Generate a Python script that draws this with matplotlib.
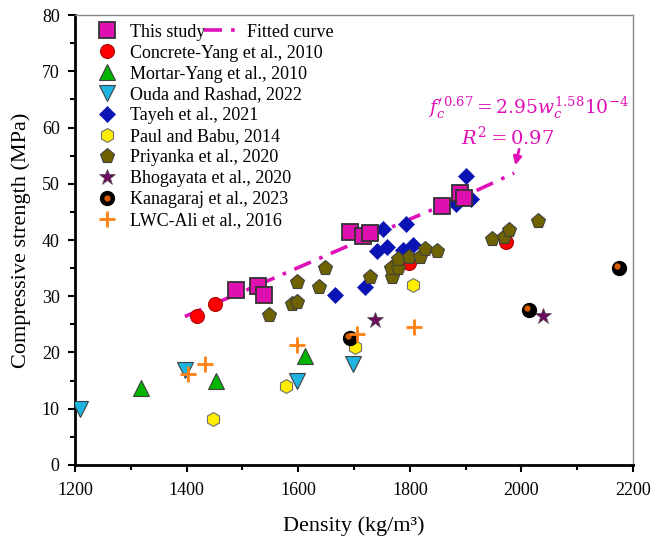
import matplotlib
matplotlib.use("Agg")
import matplotlib.pyplot as plt
from matplotlib.ticker import MultipleLocator
from matplotlib.transforms import offset_copy
from matplotlib.legend_handler import HandlerTuple

plt.rcParams['font.family'] = ['Liberation Serif', 'DejaVu Serif']
plt.rcParams['mathtext.fontset'] = 'dejavuserif'

# this study
study_x = [1489, 1528, 1538, 1693, 1716, 1728, 1858, 1890, 1898]
study_y = [31.1, 31.9, 30.3, 41.4, 40.7, 41.2, 46.0, 48.3, 47.5]

# fitted curve
fit_x = [1397, 1500, 1600, 1700, 1800, 1900, 1987]
fit_y = [26.4, 30.8, 35.1, 39.4, 43.7, 47.9, 51.9]

conc_yang_x = [1419, 1450, 1799, 1972]
conc_yang_y = [26.5, 28.7, 36.0, 39.6]

mort_yang_x = [1318, 1452, 1613]
mort_yang_y = [13.6, 14.9, 19.3]

ouda_x = [1209, 1397, 1598, 1698]
ouda_y = [9.9, 16.9, 14.9, 17.9]

tayeh_x = [1666, 1720, 1741, 1759, 1788, 1806, 1752, 1793, 1882, 1910, 1900]
tayeh_y = [30.2, 31.7, 38.0, 38.8, 38.3, 39.1, 42.0, 42.9, 46.4, 47.3, 51.3]

paul_x = [1447, 1579, 1701, 1805]
paul_y = [8.1, 14.0, 21.0, 32.0]

priy_x = [1548, 1589, 1598, 1598, 1638, 1648, 1728, 1768, 1766, 1778,
          1778, 1798, 1818, 1828, 1848, 1948, 1968, 1978, 2029]
priy_y = [26.7, 28.6, 28.9, 32.5, 31.7, 35.1, 33.5, 33.4, 35.1, 35.1,
          36.7, 37.0, 37.0, 38.4, 38.1, 40.1, 40.5, 41.8, 43.4]

bhog_x = [1738, 2038]
bhog_y = [25.8, 26.4]

kana_x = [1692, 2013, 2175]
kana_y = [22.5, 27.6, 35.0]

ali_x = [1403, 1433, 1598, 1706, 1808]
ali_y = [16.2, 18.0, 21.3, 23.2, 24.5]

pink = '#E010B8'

fig = plt.figure(figsize=(6.68, 5.38), dpi=100)
ax = fig.add_axes([0.1123, 0.1357, 0.8353, 0.8364])

# fitted line underneath the markers
ln_fit, = ax.plot(fit_x, fit_y, color=pink, lw=2.6, ls=(0, (5, 2.5, 1, 2.5)), zorder=2)

h_study, = ax.plot(study_x, study_y, 's', ms=11, mfc='#E010B0', mec='#333333', mew=1.3, zorder=5)
h_cy, = ax.plot(conc_yang_x, conc_yang_y, 'o', ms=10, mfc='#FF0000', mec='#B00000', mew=0.8, zorder=3)
h_my, = ax.plot(mort_yang_x, mort_yang_y, '^', ms=11, mfc='#00B400', mec='#404040', mew=0.8, zorder=3)
h_ou, = ax.plot(ouda_x, ouda_y, 'v', ms=11, mfc='#1EB4E0', mec='#404040', mew=0.8, zorder=3)
h_ta, = ax.plot(tayeh_x, tayeh_y, 'D', ms=8, mfc='#0A14B4', mec='#0A14B4', mew=0.5, zorder=3)
h_pa, = ax.plot(paul_x, paul_y, 'h', ms=10, mfc='#FFEE00', mec='#707070', mew=0.8, zorder=3)
h_pr, = ax.plot(priy_x, priy_y, 'p', ms=11, mfc='#6E6300', mec='#404040', mew=0.8, zorder=4)
h_bh, = ax.plot(bhog_x, bhog_y, '*', ms=12, mfc='#6C0A5C', mec='#505050', mew=0.5, zorder=3)
h_kb, = ax.plot(kana_x, kana_y, 'o', ms=10, mfc='black', mec='black', zorder=3)
dot_tr = offset_copy(ax.transData, fig=fig, x=-2, y=2, units='dots')
h_ko, = ax.plot(kana_x, kana_y, 'o', ms=3.5, mfc='#D85A00', mec='#D85A00', transform=dot_tr, zorder=3)
h_al, = ax.plot(ali_x, ali_y, '+', ms=11, mew=2, color='#FF8010', zorder=3)

ax.set_xlim(1200, 2200)
ax.set_ylim(0, 80)
ax.xaxis.set_major_locator(MultipleLocator(200))
ax.xaxis.set_minor_locator(MultipleLocator(100))
ax.yaxis.set_major_locator(MultipleLocator(10))
ax.yaxis.set_minor_locator(MultipleLocator(5))
ax.tick_params(which='both', direction='out', top=False, right=False, width=1.5,
               labelsize=13)
ax.tick_params(axis='x', pad=7.5)
ax.tick_params(axis='y', pad=6)
ax.tick_params(which='major', length=5)
ax.tick_params(which='minor', length=3.6)
for s in ['left', 'bottom']:
    ax.spines[s].set_linewidth(2)
    ax.spines[s].set_color('black')
for s in ['top', 'right']:
    ax.spines[s].set_linewidth(1)
    ax.spines[s].set_color('#888888')

ax.set_xlabel('Density (kg/m\u00b3)', fontsize=16, labelpad=12.5)
ax.set_ylabel('Compressive strength (MPa)', fontsize=16, labelpad=8)

handles = [h_study, h_cy, h_my, h_ou, h_ta, h_pa, h_pr, h_bh, (h_kb, h_ko), h_al]
labels = ['This study', 'Concrete-Yang et al., 2010', 'Mortar-Yang et al., 2010',
          'Ouda and Rashad, 2022', 'Tayeh et al., 2021', 'Paul and Babu, 2014',
          'Priyanka et al., 2020', 'Bhogayata et al., 2020', 'Kanagaraj et al., 2023',
          'LWC-Ali et al., 2016']
leg1 = ax.legend(handles, labels, loc='upper left', bbox_to_anchor=(0.041, 0.981),
                 frameon=False, fontsize=13, borderpad=0, borderaxespad=0,
                 handlelength=1.0, handletextpad=0.8, labelspacing=0.22,
                 handler_map={tuple: HandlerTuple(ndivide=1)})
ax.add_artist(leg1)
ax.legend([ln_fit], ['Fitted curve'], loc='upper left', bbox_to_anchor=(0.231, 0.981),
          frameon=False, fontsize=13, borderpad=0, borderaxespad=0,
          handlelength=2.0, handletextpad=0.4)

ax.text(2012, 63.4, r"$f_c^{\prime\,0.67} = 2.95w_c^{1.58}10^{-4}$", color=pink,
        fontsize=13.5, ha='center', va='center')
ax.text(1975, 58.2, r"$R^2 = 0.97$", color=pink, fontsize=14, ha='center', va='center')
ax.annotate('', xy=(1988, 52.8), xytext=(1997, 56.6),
            arrowprops=dict(arrowstyle='-|>', color=pink, lw=2, mutation_scale=12))

fig.savefig('out.png', dpi=100)
